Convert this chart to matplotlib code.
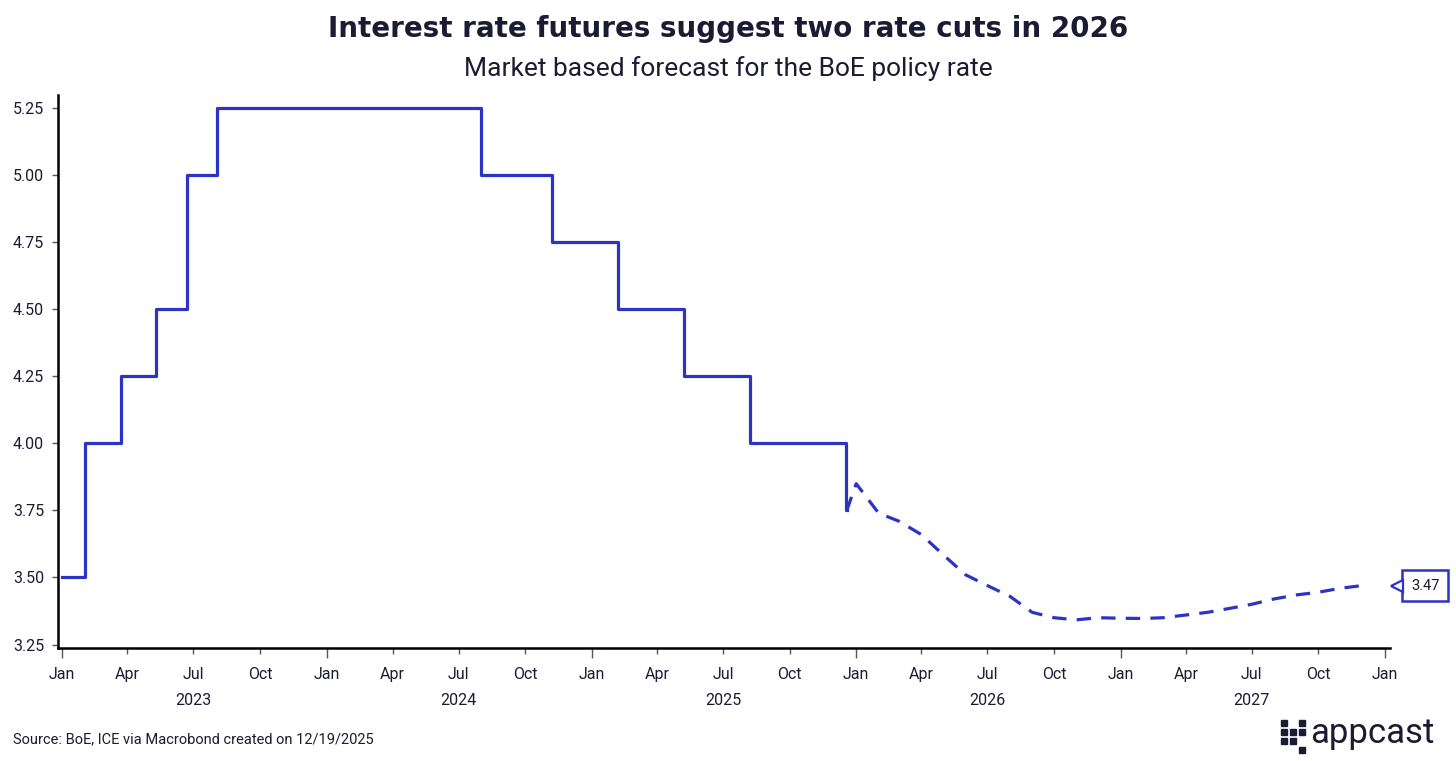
import datetime as dt
import matplotlib
matplotlib.use('Agg')
import matplotlib.pyplot as plt
import matplotlib.dates as mdates
import matplotlib.transforms as mtransforms
from matplotlib.patches import Rectangle

# BoE policy rate (actual) - change dates and new levels
rate_dates = ['2023-01-01', '2023-02-02', '2023-03-23', '2023-05-11', '2023-06-22',
              '2023-08-03', '2024-08-01', '2024-11-07', '2025-02-06', '2025-05-08',
              '2025-08-07', '2025-12-18', '2025-12-19']
rate_values = [3.50, 4.00, 4.25, 4.50, 5.00, 5.25, 5.00, 4.75, 4.50, 4.25, 4.00, 3.75, 3.75]

# market based forecast (interest rate futures)
fc_dates = ['2025-12-19', '2026-01-01', '2026-02-01', '2026-03-01', '2026-04-01',
            '2026-05-01', '2026-06-01', '2026-07-01', '2026-08-01', '2026-09-01',
            '2026-10-01', '2026-11-01', '2026-12-01', '2027-01-01', '2027-02-01',
            '2027-03-01', '2027-04-01', '2027-05-01', '2027-06-01', '2027-07-01',
            '2027-08-01', '2027-09-01', '2027-10-01', '2027-11-01', '2027-12-01']
fc_values = [3.75, 3.85, 3.74, 3.71, 3.66, 3.585, 3.51, 3.47, 3.43, 3.37,
             3.35, 3.342, 3.35, 3.348, 3.347, 3.35, 3.36, 3.37, 3.385, 3.40,
             3.42, 3.435, 3.445, 3.46, 3.47]

yticks = [3.25, 3.50, 3.75, 4.00, 4.25, 4.50, 4.75, 5.00, 5.25]
years = [2023, 2024, 2025, 2026, 2027]

BLUE = '#2b34c3'
INK = '#1b1b33'


def to_dates(lst):
    return [dt.datetime.strptime(s, '%Y-%m-%d') for s in lst]


fig = plt.figure(figsize=(14.56, 7.61), dpi=100)
ax = fig.add_axes([0.0398, 0.1485, 0.9149, 0.7267])

ax.plot(to_dates(rate_dates), rate_values, color=BLUE, lw=2.3, drawstyle='steps-post')
fc_line, = ax.plot(to_dates(fc_dates), fc_values, color=BLUE, lw=2.3, ls='--')
fc_line.set_dashes((4.5, 3.2))

ax.set_xlim(dt.datetime(2022, 12, 26), dt.datetime(2028, 1, 8))
ax.set_ylim(3.237, 5.30)
ax.set_yticks(yticks)
ax.set_yticklabels(['%.2f' % v for v in yticks])

ax.xaxis.set_major_locator(mdates.MonthLocator(bymonth=[1]))
ax.xaxis.set_minor_locator(mdates.MonthLocator(bymonth=[4, 7, 10]))
ax.xaxis.set_major_formatter(mdates.DateFormatter('%b'))
ax.xaxis.set_minor_formatter(mdates.DateFormatter('%b'))

for side in ['top', 'right']:
    ax.spines[side].set_visible(False)
for side in ['left', 'bottom']:
    ax.spines[side].set_linewidth(1.8)
    ax.spines[side].set_color('black')

ax.tick_params(axis='x', which='major', length=7, width=1, color='#555566',
               labelsize=11.5, labelcolor=INK, pad=7)
ax.tick_params(axis='x', which='minor', length=4, width=1, color='#555566',
               labelsize=11.5, labelcolor=INK, pad=10)
ax.tick_params(axis='y', length=4, width=1, color='#555566', labelsize=11.5,
               labelcolor=INK, pad=6)
for lbl in ax.get_xticklabels(which='both') + ax.get_yticklabels():
    lbl.set_fontfamily('Roboto')

# year labels under July
trans = mtransforms.blended_transform_factory(ax.transData, ax.transAxes)
for y in years:
    ax.text(dt.datetime(y, 7, 1), -0.095, str(y), transform=trans, ha='center',
            va='center', fontsize=11.5, color=INK, family='Roboto')

# end value label
ax.annotate('%.2f' % fc_values[-1], xy=(1.0, fc_values[-1]),
            xycoords=('axes fraction', 'data'), xytext=(21, 0),
            textcoords='offset pixels', ha='left', va='center', fontsize=10.5,
            color=INK, family='Roboto', annotation_clip=False,
            bbox=dict(boxstyle='square,pad=0.6', fc='white', ec=BLUE, lw=1.8))
ax.plot([1.0], [fc_values[-1]], marker='<', ms=9, mfc='white', mec=BLUE, mew=1.6,
        transform=mtransforms.blended_transform_factory(ax.transAxes, ax.transData)
        + mtransforms.ScaledTranslation(0.065, 0, fig.dpi_scale_trans),
        clip_on=False, zorder=5)

fig.text(0.5, 0.962, 'Interest rate futures suggest two rate cuts in 2026', ha='center',
         va='center', fontsize=20, fontweight='bold', color=INK, family='DejaVu Sans')
fig.text(0.5, 0.910, 'Market based forecast for the BoE policy rate', ha='center',
         va='center', fontsize=19, color=INK, family='Roboto')
fig.text(0.009, 0.029, 'Source: BoE, ICE via Macrobond created on 12/19/2025', ha='left',
         va='center', fontsize=10.5, color=INK, family='Roboto')

# appcast logo
sq = 6 / 1456
sqh = 6 / 761
x0, y0 = 1281 / 1456, 1 - 720 / 761
for r, c in [(0, 0), (0, 2), (1, 0), (1, 1), (1, 2), (2, 0), (2, 1), (3, 2)]:
    fig.patches.append(Rectangle((x0 + c * 9 / 1456, y0 - r * 9 / 761 - sqh), sq, sqh,
                                 transform=fig.transFigure, color=INK))
fig.text(1310 / 1456, 1 - 733 / 761, 'appcast', ha='left', va='center', fontsize=25,
         color=INK, family='Roboto')

fig.savefig('out.png', dpi=100)
